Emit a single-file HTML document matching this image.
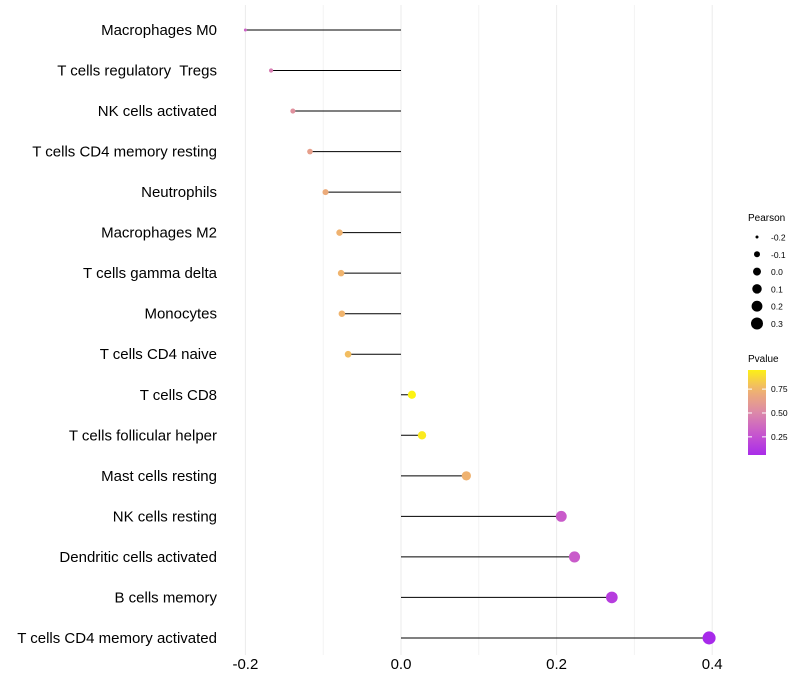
<!DOCTYPE html>
<html><head><meta charset="utf-8"><style>
body{margin:0;background:#fff}
svg{display:block;font-family:"Liberation Sans",sans-serif}
</style></head><body>
<svg id="chart" width="800" height="700"></svg>
<script>
const categories=["Macrophages M0","T cells regulatory\u00a0 Tregs","NK cells activated","T cells CD4 memory resting","Neutrophils","Macrophages M2","T cells gamma delta","Monocytes","T cells CD4 naive","T cells CD8","T cells follicular helper","Mast cells resting","NK cells resting","Dendritic cells activated","B cells memory","T cells CD4 memory activated"];
const pearson=[-0.2,-0.167,-0.139,-0.117,-0.097,-0.079,-0.077,-0.076,-0.068,0.014,0.027,0.084,0.206,0.223,0.271,0.396];
const pvalue=[0.33,0.45,0.55,0.63,0.7,0.74,0.75,0.75,0.78,0.96,0.93,0.74,0.3,0.3,0.15,0.05];
const xTicks=[-0.2,0,0.2,0.4];
const xTickLabels=["-0.2","0.0","0.2","0.4"];
const xMinor=[-0.1,0.1,0.3];
const sizeLegend=[-0.2,-0.1,0.0,0.1,0.2,0.3];
const pLegend=[0.25,0.5,0.75];

const NS="http://www.w3.org/2000/svg";
const svg=document.getElementById('chart');
const X=v=>401+v*778;
const Y=i=>30+i*40.53;
const R=v=>Math.sqrt(67.5*(v+0.2)+2.25);
function col(p){
  const stops=[[0,[160,32,240]],[0.25,[196,80,210]],[0.5,[220,136,170]],[0.75,[240,180,110]],[1,[255,255,0]]];
  p=Math.max(0,Math.min(1,p));
  let k=0;while(k<stops.length-2&&p>stops[k+1][0])k++;
  const a=stops[k],b=stops[k+1];
  const t=(p-a[0])/(b[0]-a[0]);
  return 'rgb('+a[1].map((c,j)=>Math.round(c+(b[1][j]-c)*t)).join(',')+')';
}
function el(tag,attrs,parent){const e=document.createElementNS(NS,tag);for(const k in attrs)e.setAttribute(k,attrs[k]);(parent||svg).appendChild(e);return e;}

xMinor.forEach(v=>{
  const l=el('line',{x1:X(v),x2:X(v),y1:5,y2:655,stroke:'#f3f3f3','stroke-width':1});
  
  
});
xTicks.forEach((v,i)=>{
  const l=el('line',{x1:X(v),x2:X(v),y1:5,y2:655,stroke:'#ebebeb','stroke-width':1});
  
  
  const t=el('text',{x:X(v),y:669,'text-anchor':'middle','font-size':15,fill:'#000'});
  t.textContent=xTickLabels[i];
  
  
});
categories.forEach((c,i)=>{
  const y=Y(i);
  const t=el('text',{x:217,y:y+5,'text-anchor':'end','font-size':15,fill:'#000'});
  t.textContent=c;
  
  
  const l=el('line',{x1:X(0),x2:X(pearson[i]),y1:y,y2:y,stroke:'#000','stroke-width':1});
  
  
  const d=el('circle',{cx:X(pearson[i]),cy:y,r:R(pearson[i]),fill:col(pvalue[i])});
  
  
});
let lt=el('text',{x:748,y:221,'font-size':10,fill:'#000'});lt.textContent='Pearson';


sizeLegend.forEach((v,i)=>{
  const y=237+i*17.3;
  const c=el('circle',{cx:757,cy:y,r:R(v),fill:'#000'});
  
  
  const t=el('text',{x:771,y:y+3.5,'font-size':8.5,fill:'#000'});
  t.textContent=v.toFixed(1);
  
  
});
let pt=el('text',{x:748,y:362,'font-size':10,fill:'#000'});pt.textContent='Pvalue';


const defs=el('defs',{});
const g=el('linearGradient',{id:'pg',x1:0,y1:1,x2:0,y2:0},defs);
for(let k=0;k<=10;k++){const p=0.06+(0.95-0.06)*k/10;el('stop',{offset:k/10,'stop-color':col(p)},g);}
const bar=el('rect',{x:748,y:370,width:18,height:85,fill:'url(#pg)'});


const PY=p=>455-(p-0.06)/(0.95-0.06)*85;
pLegend.forEach(p=>{
  const tk=el('line',{x1:748,x2:752,y1:PY(p),y2:PY(p),stroke:'#fff'});
  
  
  const tk2=el('line',{x1:762,x2:766,y1:PY(p),y2:PY(p),stroke:'#fff'});
  
  
  const t=el('text',{x:771,y:PY(p)+3,'font-size':8.5,fill:'#000'});
  t.textContent=p.toFixed(2);
  
  
});
</script>
</body></html>
